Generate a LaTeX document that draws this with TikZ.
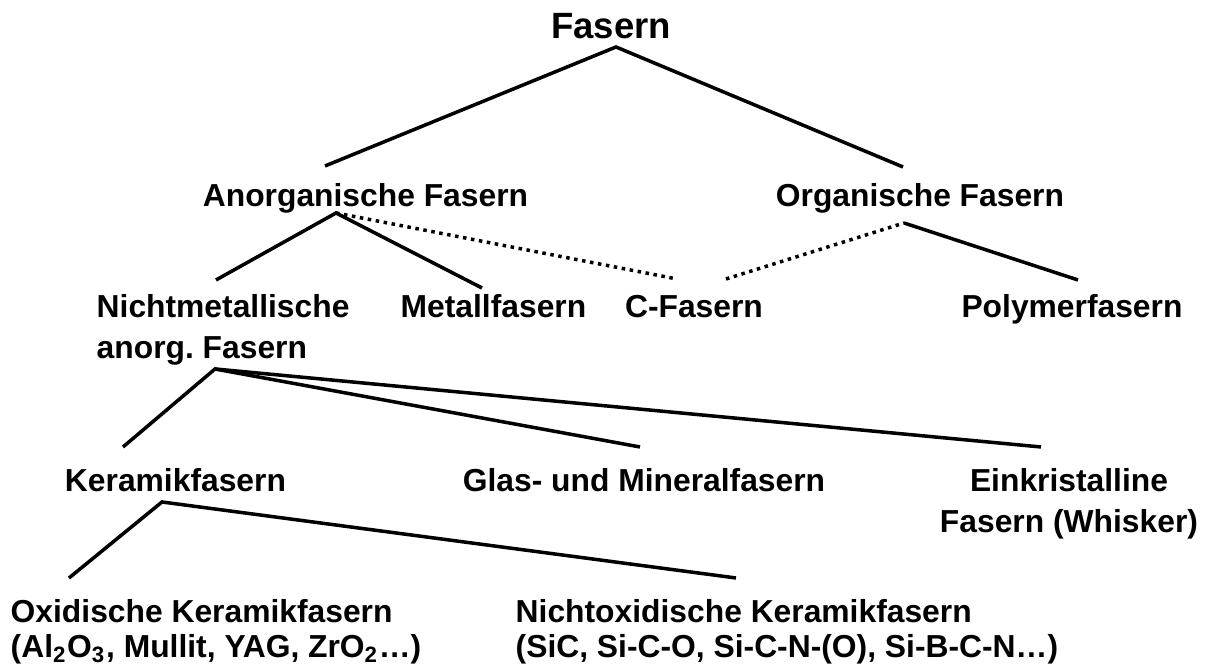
\documentclass[tikz,border=0pt]{standalone}
\usepackage{fontspec}
\setmainfont{Liberation Sans}
\frenchspacing
\tikzset{
	lbl/.style={font=\fontsize{9.05}{10}\selectfont\bfseries, anchor=base, inner sep=0pt},
	weit/.style={font=\fontsize{9.05}{11.7}\selectfont\bfseries},
	titel/.style={font=\fontsize{10.4}{12}\selectfont\bfseries, anchor=base, inner sep=0pt},
	ast/.style={line width=1pt},
	link/.style={line width=1pt, dash pattern=on 1pt off 1.3pt}
}
\begin{document}
\begin{tikzpicture}

		\useasboundingbox (0,0) rectangle (12.09,6.65);

		\node[titel] (fasern) at (6.11,6.26) {Fasern};

		\node[lbl] (anorg) at (3.655,4.58) {Anorganische Fasern};
		\node[lbl] (organ) at (9.20,4.58) {Organische Fasern};

		% mehrzeilig: base = letzte Zeile
		\node[lbl, weit, anchor=base west, align=left] (nichtmet) at (0.96,3.06) {Nichtmetallische\\anorg. Fasern};
		\node[lbl] (metall) at (4.935,3.47) {Metallfasern};
		\node[lbl] (cfas) at (6.94,3.47) {C-Fasern};
		\node[lbl] (polymer) at (10.72,3.47) {Polymerfasern};

		\node[lbl] (keramik) at (1.755,1.73) {Keramikfasern};
		\node[lbl] (glas) at (6.44,1.73) {Glas- und Mineralfasern};
		\node[lbl, weit, align=center] (einkr) at (10.69,1.32) {Einkristalline\\Fasern (Whisker)};

		\node[lbl, anchor=base west, align=left] (oxid) at (0.10,0.07) {Oxidische Keramikfasern\\(Al\textsubscript{2}O\textsubscript{3}, Mullit, YAG, ZrO\textsubscript{2}\dots)};
		\node[lbl, anchor=base west, align=left] (nichtox) at (5.15,0.07) {Nichtoxidische Keramikfasern\\(SiC, Si-C-O, Si-C-N-(O), Si-B-C-N\dots)};

		% Fasern
		\draw[ast] ([shift={(-0.405,0.41)}]anorg.base) -- ([shift={(0.05,-0.08)}]fasern.base) -- ([shift={(-0.17,0.40)}]organ.base);

		% anorganisch
		\draw[ast] ([shift={(1.20,0.79)}]nichtmet.base west) -- ([shift={(-0.295,-0.06)}]anorg.base) -- ([shift={(-0.115,0.30)}]metall.base);
		\draw[link] ([shift={(-0.295,-0.06)}]anorg.base) -- ([shift={(-0.17,0.39)}]cfas.base);

		% organisch
		\draw[link] ([shift={(0.32,0.39)}]cfas.base) -- ([shift={(-0.16,-0.16)}]organ.base);
		\draw[ast] ([shift={(-0.16,-0.16)}]organ.base) -- ([shift={(0.06,0.38)}]polymer.base);

		% nichtmetallisch
		\draw[ast] ([shift={(-0.525,0.45)}]keramik.base) -- ([shift={(1.19,-0.10)}]nichtmet.base west) -- ([shift={(-0.04,0.45)}]glas.base);
		\draw[ast] ([shift={(1.19,-0.10)}]nichtmet.base west) -- ([shift={(-0.28,0.86)}]einkr.base);

		% Keramik
		\draw[ast] ([shift={(0.59,0.80)}]oxid.base west) -- ([shift={(-0.135,-0.10)}]keramik.base) -- ([shift={(2.21,0.80)}]nichtox.base west);

	\end{tikzpicture}
\end{document}
